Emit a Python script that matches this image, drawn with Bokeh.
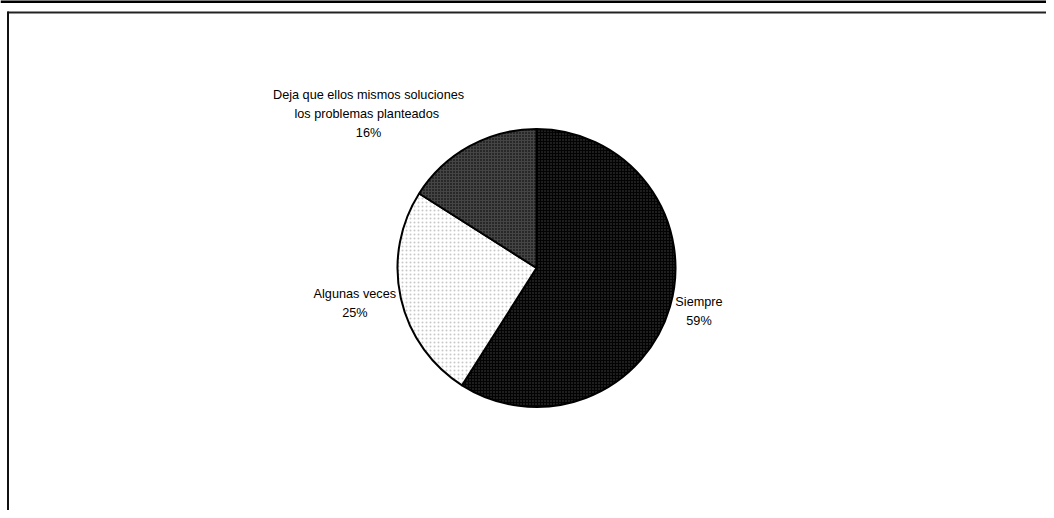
import math
from bokeh.plotting import figure
from bokeh.models import Range1d, ColumnDataSource
from bokeh.core.properties import value
from bokeh.embed import file_html
from bokeh.resources import INLINE

# ---- data ----
categories = ["Siempre", "Algunas veces", "Deja que ellos mismos soluciones\nlos  problemas planteados"]
percent = [59, 25, 16]

# ---- style / layout ----
fill_colors = ["#030303", "#ffffff", "#282828"]
hatch_patterns = ["dot", "dot", "cross"]
hatch_colors = ["#444444", "#c8c8c8", "#454545"]
hatch_scales = [3, 4, 3]
label_offsets = [(29, 5), (-46, 5), (-101, -32)]  # px from slice edge point

W, H = 1046, 510
cx, cy, r = 536, -267.5, 139

p = figure(width=W, height=H, output_backend="svg", toolbar_location=None,
           x_range=Range1d(0, W), y_range=Range1d(-H, 0),
           min_border_left=0, min_border_right=0, min_border_top=0, min_border_bottom=0,
           outline_line_color=None)
p.axis.visible = False
p.grid.visible = False
p.background_fill_color = "white"
p.border_fill_color = "white"

# page frame lines
p.segment(x0=[0], y0=[-1], x1=[W], y1=[-1], line_color="black", line_width=3)
p.segment(x0=[7], y0=[-12], x1=[W], y1=[-12], line_color="#222222", line_width=2)
p.segment(x0=[7.5], y0=[-11], x1=[7.5], y1=[-H], line_color="#111111", line_width=2)

total = float(sum(percent))
starts, ends, lx, ly, texts = [], [], [], [], []
cum = 0.0
for i, v in enumerate(percent):
    a0 = cum / total
    cum += v
    a1 = cum / total
    starts.append(math.pi / 2 - 2 * math.pi * a1)
    ends.append(math.pi / 2 - 2 * math.pi * a0)
    mid = 2 * math.pi * (a0 + a1) / 2
    lx.append(cx + r * math.sin(mid))
    ly.append(cy + r * math.cos(mid))
    texts.append(f"{categories[i]}\n{round(v / total * 100)}%")

src = ColumnDataSource(dict(start=starts, end=ends, fill=fill_colors,
                            hp=hatch_patterns, hc=hatch_colors, hs=hatch_scales))
p.wedge(x=cx, y=cy, radius=r, start_angle="start", end_angle="end", source=src,
        fill_color="fill", hatch_pattern="hp", hatch_color="hc", hatch_scale="hs",
        hatch_weight=1, line_color="black", line_width=2)

for i in range(len(percent)):
    p.text(x=[lx[i]], y=[ly[i]], text=[texts[i]], x_offset=label_offsets[i][0],
           y_offset=label_offsets[i][1], text_align="center", text_baseline="middle",
           text_font=value("Liberation Sans"), text_font_size="12.7px",
           text_line_height=1.36, text_color="black")

open("out.html", "w").write(file_html(p, INLINE))
